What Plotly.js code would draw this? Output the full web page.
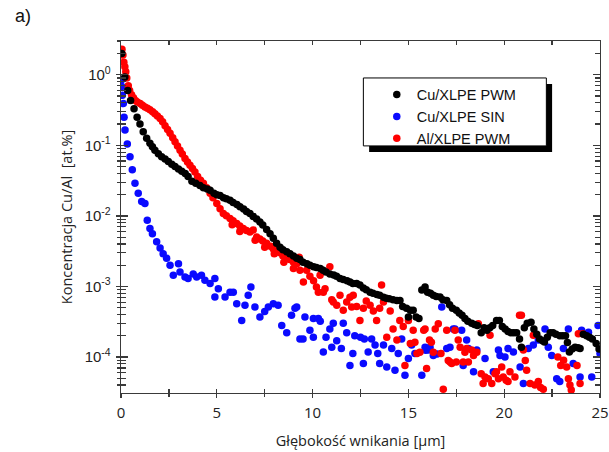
<!DOCTYPE html>
<html>
<head>
<meta charset="utf-8">
<script src="https://cdn.plot.ly/plotly-3.0.1.min.js"></script>
<style>html,body{margin:0;padding:0;background:#fff;}#chart{width:609px;height:452px;}</style>
</head>
<body>
<div id="chart"></div>
<script>
// Cu/XLPE PWM (black)
const cuPwmDepth = [0.04,0.2,0.35,0.5,0.68,0.84,0.99,1.16,1.34,1.51,1.64,1.77,1.95,2.12,2.3,2.47,2.65,2.82,3.0,3.17,3.35,3.5,3.7,3.9,4.12,4.3,4.5,4.65,4.85,5.0,5.17,5.35,5.5,5.69,5.85,6.05,6.21,6.4,6.55,6.73,6.9,7.08,7.25,7.4,7.6,7.78,7.95,8.12,8.3,8.45,8.65,8.82,9.0,9.17,9.34,9.5,9.7,9.86,10.05,10.2,10.4,10.55,10.7,10.9,11.1,11.25,11.43,11.6,11.8,11.95,12.1,12.3,12.47,12.65,12.8,13.0,13.15,13.35,13.5,13.7,13.85,14.0,14.2,14.4,14.56,14.7,14.9,15.0,15.1,15.25,15.4,15.55,15.7,15.87,16.0,16.15,16.3,16.45,16.65,16.8,17.0,17.15,17.3,17.5,17.65,17.8,17.95,18.1,18.3,18.45,18.6,18.8,18.95,19.1,19.25,19.4,19.6,19.75,19.9,20.05,20.2,20.35,20.5,20.65,20.8,20.9,21.05,21.2,21.4,21.55,21.7,21.85,22.0,22.1,22.25,22.4,22.55,22.7,22.9,23.05,23.2,23.3,23.4,23.55,23.7,23.85,23.96,24.13,24.3,24.45,24.6,24.8,24.95];
const cuPwmConc = [2.0,0.93,0.6,0.43,0.33,0.25,0.20,0.155,0.126,0.107,0.095,0.085,0.076,0.069,0.064,0.059,0.054,0.050,0.046,0.043,0.040,0.036,0.031,0.029,0.027,0.025,0.024,0.023,0.021,0.020,0.0195,0.018,0.0175,0.0167,0.0155,0.0145,0.0135,0.0125,0.0115,0.0108,0.0098,0.0090,0.0082,0.0074,0.0064,0.0056,0.0048,0.0041,0.0036,0.0033,0.0031,0.0029,0.0027,0.0025,0.0024,0.0022,0.0021,0.0020,0.0019,0.00185,0.0018,0.0017,0.0016,0.0015,0.00145,0.0014,0.0013,0.00125,0.0012,0.00116,0.0011,0.0011,0.00105,0.00095,0.0009,0.00083,0.0008,0.00077,0.00075,0.0007,0.00068,0.00067,0.00065,0.00063,0.00063,0.00052,0.00049,0.00037,0.00046,0.00046,0.00037,0.00035,0.00089,0.00098,0.00083,0.0008,0.00075,0.00072,0.00071,0.00065,0.00063,0.00055,0.00049,0.00046,0.00042,0.00039,0.00035,0.00032,0.0003,0.00029,0.00028,0.00022,0.00026,0.00024,0.00026,0.00028,0.00033,0.00033,0.00027,0.00025,0.00023,0.00022,0.00022,0.00022,0.00018,0.000138,0.00026,0.0003,0.00031,0.00025,0.00021,0.00018,0.00017,0.000163,0.00019,0.00022,0.00022,0.00021,0.0002,0.0002,0.0002,0.00016,0.000118,0.00013,0.000138,0.000135,0.000132,0.00021,0.0002,0.00019,0.00018,0.000155,0.00013];

// Cu/XLPE SIN (blue)
const cuSinDepth = [0.03,0.04,0.07,0.12,0.16,0.21,0.33,0.47,0.59,0.73,0.9,1.08,1.25,1.37,1.51,1.64,1.86,2.04,2.2,2.38,2.56,2.73,3.0,3.08,3.34,3.5,3.77,3.95,4.2,4.38,4.65,4.9,5.08,4.9,5.43,5.69,5.86,6.04,6.3,6.47,6.64,6.78,6.99,7.25,7.5,7.69,7.95,8.2,8.39,8.65,8.9,9.08,9.17,9.34,9.5,9.6,9.86,10.04,10.04,10.3,10.4,10.56,10.7,10.9,11.0,11.08,11.26,11.5,11.6,11.78,11.95,12.1,12.2,12.5,12.65,12.7,12.9,13.08,13.26,13.4,13.5,13.7,13.87,14.13,14.3,14.47,14.65,14.82,15.0,15.17,15.34,15.7,15.87,15.9,16.04,16.13,16.3,16.5,16.74,17.0,17.17,17.34,17.43,17.78,17.86,18.04,18.13,18.4,18.57,19.0,19.43,19.7,19.78,20.04,20.2,20.48,20.83,21.0,21.26,21.52,21.78,22.13,22.3,22.48,22.74,22.9,23.09,23.35,23.6,23.96,24.04,24.4,24.57,24.9,25.0];
const cuSinConc = [0.85,0.68,0.51,0.39,0.25,0.165,0.104,0.069,0.045,0.029,0.021,0.016,0.015,0.0087,0.0066,0.0056,0.0043,0.0035,0.0029,0.0025,0.0020,0.00144,0.0021,0.0016,0.00136,0.0013,0.0015,0.00136,0.00144,0.00122,0.0011,0.0013,0.00093,0.00071,0.00071,0.00083,0.00083,0.00057,0.00033,0.00054,0.00075,0.00098,0.00051,0.00037,0.00044,0.00051,0.00057,0.00054,0.00028,0.00022,0.00039,0.00049,0.00051,0.00018,0.00018,0.00037,0.00024,0.00035,0.00019,0.00035,0.00032,0.000118,0.00019,0.00025,0.000138,0.0003,0.00017,0.000132,0.0003,0.00022,0.000076,0.000112,0.0002,0.00019,0.000081,0.00018,0.000118,0.00018,0.000148,0.000112,0.000081,0.000148,0.000072,0.000132,0.000065,0.000112,0.00018,0.000055,0.000095,0.000148,0.000112,0.000055,0.000138,0.000125,0.000126,0.000138,0.000105,0.00011,0.00051,0.000132,0.000138,0.00025,0.00025,0.00024,0.000076,0.000174,0.000132,0.000062,0.000126,0.000095,0.000062,0.000126,0.000105,0.0001,0.000132,0.000118,0.000072,0.000042,0.000132,0.000148,0.000174,0.00025,0.000138,0.000105,0.000049,0.000045,0.000132,0.00025,0.000081,0.000052,0.00024,0.000224,0.000052,0.00028,0.000112];

// Al/XLPE PWM (red)
const alPwmDepth = [0.05,0.1,0.15,0.2,0.25,0.3,0.38,0.45,0.55,0.65,0.75,0.85,1.0,1.12,1.25,1.38,1.51,1.65,1.77,1.9,2.04,2.17,2.3,2.43,2.56,2.7,2.82,2.95,3.08,3.2,3.34,3.47,3.6,3.73,3.86,4.0,4.15,4.3,4.47,4.65,4.8,5.0,5.17,5.34,5.5,5.69,5.8,5.85,6.04,6.2,6.2,6.38,6.55,6.73,6.9,7.0,7.08,7.25,7.4,7.5,7.6,7.8,7.95,8.0,8.13,8.3,8.45,8.5,8.65,8.8,9.0,9.0,9.17,9.3,9.34,9.52,9.69,9.86,10.05,10.2,10.3,10.39,10.56,10.65,10.9,11.0,11.08,11.26,11.43,11.6,11.78,11.95,12.04,12.12,12.3,12.47,12.65,12.8,13.0,13.17,13.34,13.5,13.6,13.7,13.87,14.05,14.2,14.4,14.55,14.73,14.82,15.0,15.1,15.25,15.34,15.45,15.6,15.8,15.87,15.95,16.1,16.2,16.3,16.4,16.56,16.7,16.82,17.0,17.08,17.17,17.26,17.43,17.5,17.6,17.7,17.86,17.95,18.04,18.13,18.3,18.4,18.57,18.65,18.8,18.9,19.0,19.17,19.26,19.35,19.52,19.6,19.7,19.87,19.95,20.1,20.2,20.3,20.56,20.8,20.9,21.0,21.1,21.17,21.35,21.52,21.6,21.78,21.9,22.04,22.8,22.95,23.1,23.26,23.35,23.43,23.5,23.8,23.87,23.96,24.1];
const alPwmConc = [2.3,1.9,1.5,1.3,1.1,0.9,0.7,0.6,0.52,0.47,0.43,0.41,0.39,0.37,0.35,0.335,0.32,0.30,0.28,0.26,0.24,0.215,0.19,0.168,0.148,0.128,0.112,0.098,0.085,0.075,0.065,0.058,0.052,0.047,0.042,0.036,0.032,0.029,0.025,0.021,0.018,0.015,0.0126,0.0108,0.0100,0.0092,0.0075,0.0085,0.0078,0.0072,0.0060,0.0066,0.0062,0.0059,0.0063,0.0045,0.0050,0.0047,0.0044,0.0036,0.0041,0.0037,0.0034,0.0029,0.0032,0.0030,0.0027,0.0022,0.0026,0.0024,0.0022,0.0018,0.0021,0.0026,0.0017,0.00116,0.0017,0.0014,0.0012,0.00098,0.00083,0.00144,0.00083,0.00093,0.0019,0.00065,0.0006,0.00054,0.00075,0.00046,0.0006,0.0007,0.00051,0.00075,0.00052,0.00033,0.00049,0.00062,0.00054,0.00045,0.00033,0.00049,0.00105,0.0006,0.00019,0.00045,0.00025,0.000174,0.00033,0.00027,0.000076,0.00033,0.000155,0.00024,0.000162,0.000112,0.000117,0.00024,0.00025,0.000069,0.000174,0.000162,0.000117,0.00025,0.000295,0.000112,0.000035,0.00024,0.000089,0.000085,0.000081,0.00024,0.000085,0.000174,0.000138,0.000085,0.000117,0.000132,0.000085,0.000126,0.000105,0.000117,0.000295,0.000058,0.000042,0.000052,0.000049,0.000204,0.000042,0.000058,0.000062,0.000049,0.000072,0.000052,0.000047,0.000045,0.000062,0.000052,0.00039,0.00039,0.000126,0.000089,0.000065,0.000042,0.000204,0.00004,0.000045,0.000037,0.000035,0.0001,0.000076,0.00009,0.000072,0.000049,0.00004,0.000034,0.000076,0.000214,0.000042,0.000214];

const seriesNames = ['Cu/XLPE PWM', 'Cu/XLPE SIN', 'Al/XLPE PWM'];
const xTickVals = [0, 5, 10, 15, 20, 25];
const xTickText = ['0', '5', '10', '15', '20', '25'];
const xMinorVals = [2.5, 7.5, 12.5, 17.5, 22.5];
const yTickVals = [1e-4, 1e-3, 1e-2, 1e-1, 1];
const yTickText = ['10<sup>-4</sup>', '10<sup>-3</sup>', '10<sup>-2</sup>', '10<sup>-1</sup>', '10<sup>0</sup>'];
const yMinorVals = [3e-5,4e-5,5e-5,6e-5,7e-5,8e-5,9e-5,2e-4,3e-4,4e-4,5e-4,6e-4,7e-4,8e-4,9e-4,2e-3,3e-3,4e-3,5e-3,6e-3,7e-3,8e-3,9e-3,0.02,0.03,0.04,0.05,0.06,0.07,0.08,0.09,0.2,0.3,0.4,0.5,0.6,0.7,0.8,0.9,2,3];

const mk = (c) => ({color: c, size: 7.5, symbol: 'circle', line: {width: 0}});
const traces = [
  {x: cuSinDepth, y: cuSinConc, name: seriesNames[1], mode: 'markers', type: 'scatter', marker: mk('#0a0aff'), legendrank: 2},
  {x: alPwmDepth, y: alPwmConc, name: seriesNames[2], mode: 'markers', type: 'scatter', marker: mk('#ff0000'), legendrank: 3},
  {x: cuPwmDepth, y: cuPwmConc, name: seriesNames[0], mode: 'markers', type: 'scatter', marker: mk('#000000'), legendrank: 1},
  {x: [], y: [], xaxis: 'x2', yaxis: 'y', showlegend: false, hoverinfo: 'skip', type: 'scatter'},
  {x: [], y: [], xaxis: 'x', yaxis: 'y2', showlegend: false, hoverinfo: 'skip', type: 'scatter'}
];

const axisCol = '#3a3a3a';
const xRange = [0, 25];
const yRange = [-4.51, 0.478];
const layout = {
  width: 609, height: 452,
  margin: {l: 121, r: 9, t: 41, b: 59},
  paper_bgcolor: '#fff', plot_bgcolor: '#fff',
  showlegend: true,
  legend: {x: 0.534, y: 0.893, xanchor: 'left', yanchor: 'top', bgcolor: 'rgba(0,0,0,0)', borderwidth: 0,
           font: {family: 'Liberation Sans, Arial, sans-serif', size: 14.5, color: '#111'}},
  xaxis: {
    range: xRange, showgrid: false, zeroline: false, showline: true, linecolor: axisCol, linewidth: 1.3, mirror: 'ticks',
    tickmode: 'array', tickvals: xTickVals, ticktext: xTickText, ticks: 'inside', ticklen: 4, tickwidth: 1.3, tickcolor: axisCol,
    minor: {tickmode: 'array', tickvals: xMinorVals, ticks: 'inside', ticklen: 4, tickwidth: 1.3, tickcolor: axisCol},
    tickfont: {family: 'Open Sans, sans-serif', size: 15, color: '#222'}, ticklabelstandoff: 6,
    title: {text: 'Głębokość wnikania [μm]', font: {family: 'Open Sans, sans-serif', size: 14.5, color: '#222'}, standoff: 14}
  },
  xaxis2: {
    overlaying: 'x', anchor: 'y', side: 'bottom', range: xRange, showgrid: false, zeroline: false, showline: false,
    tickmode: 'array', tickvals: xTickVals, ticks: 'outside', ticklen: 4, tickwidth: 1.3, tickcolor: axisCol, showticklabels: false,
    minor: {tickmode: 'array', tickvals: xMinorVals, ticks: 'outside', ticklen: 3, tickwidth: 1.3, tickcolor: axisCol}
  },
  yaxis: {
    type: 'log', range: yRange, showgrid: false, zeroline: false, showline: true, linecolor: axisCol, linewidth: 1.3, mirror: 'ticks',
    tickmode: 'array', tickvals: yTickVals, ticktext: yTickText, ticks: 'inside', ticklen: 7, tickwidth: 1.3, tickcolor: axisCol,
    minor: {tickmode: 'array', tickvals: yMinorVals, ticks: 'inside', ticklen: 5, tickwidth: 1.2, tickcolor: axisCol},
    tickfont: {family: 'Liberation Sans, Arial, sans-serif', size: 15, color: '#222'}, ticklabelstandoff: 6,
    title: {text: 'Koncentracja Cu/Al  [at.%]', font: {family: 'Open Sans, sans-serif', size: 14.5, color: '#222'}, standoff: 8}
  },
  yaxis2: {
    type: 'log', overlaying: 'y', anchor: 'x', side: 'left', range: yRange, showgrid: false, zeroline: false, showline: false,
    tickmode: 'array', tickvals: yTickVals, ticks: 'outside', ticklen: 4, tickwidth: 1.3, tickcolor: axisCol, showticklabels: false,
    minor: {tickmode: 'array', tickvals: yMinorVals, ticks: 'outside', ticklen: 3, tickwidth: 1.2, tickcolor: axisCol}
  },
  shapes: [
    {type: 'rect', xref: 'paper', yref: 'paper', x0: 0.518, x1: 0.9, y0: 0.685, y1: 0.878, fillcolor: '#000', line: {width: 0}, layer: 'below'},
    {type: 'rect', xref: 'paper', yref: 'paper', x0: 0.506, x1: 0.888, y0: 0.702, y1: 0.895, fillcolor: '#fff', line: {color: '#000', width: 1}, layer: 'below'}
  ],
  annotations: [
    {text: 'a)', xref: 'paper', yref: 'paper', x: -0.226, y: 1.07, xanchor: 'left', yanchor: 'middle', showarrow: false,
     font: {family: 'Liberation Sans, Arial, sans-serif', size: 18, color: '#111'}}
  ]
};
Plotly.newPlot('chart', traces, layout, {staticPlot: true});
</script>
</body>
</html>
